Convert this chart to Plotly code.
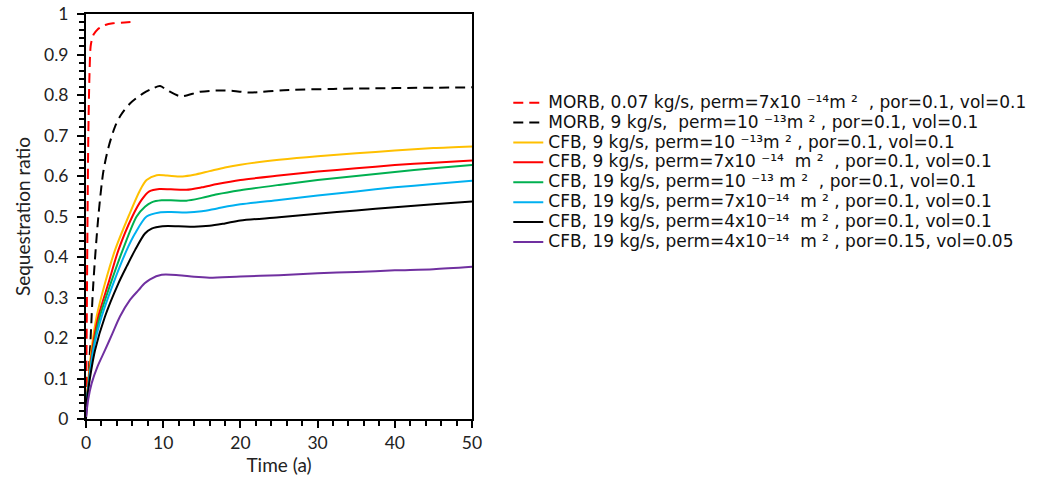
import plotly.graph_objects as go

# --- data ---
morb007_x = [0, 0.1, 0.2, 0.3, 0.45, 0.6, 0.8, 1.0, 1.5, 2.0, 2.5, 3.5, 5.0, 6.5]
morb007_y = [0, 0.25, 0.5, 0.7, 0.85, 0.92, 0.94, 0.95, 0.962, 0.968, 0.973, 0.977, 0.979, 0.981]

morb9_x = [0, 0.52, 0.95, 1.6, 2.24, 2.9, 3.76, 4.5, 5.7, 7.4, 8.5, 9.6, 10.5, 12.2, 14.8, 17, 19.1, 21.2, 25.6, 32, 40, 50]
morb9_y = [0, 0.17, 0.335, 0.5, 0.61, 0.67, 0.722, 0.75, 0.779, 0.804, 0.815, 0.822, 0.812, 0.797, 0.808, 0.811, 0.81, 0.806, 0.812, 0.815, 0.817, 0.819]

yellow_x = [0, 0.7, 1.38, 2.46, 3.76, 5.5, 7.0, 7.85, 9.15, 10.5, 12.5, 14, 16, 18, 20, 25, 30, 35, 40, 45, 50]
yellow_y = [0.03, 0.17, 0.253, 0.335, 0.417, 0.5, 0.565, 0.59, 0.602, 0.601, 0.599, 0.603, 0.612, 0.621, 0.628, 0.64, 0.649, 0.656, 0.663, 0.669, 0.673]

red_x = [0, 0.8, 1.6, 2.9, 4.2, 6.0, 7.2, 8.2, 9.5, 11, 13, 15, 17, 20, 25, 30, 35, 40, 45, 50]
red_y = [0.03, 0.17, 0.253, 0.335, 0.417, 0.5, 0.541, 0.562, 0.568, 0.567, 0.566, 0.572, 0.58, 0.59, 0.601, 0.611, 0.619, 0.627, 0.633, 0.638]

green_x = [0, 0.9, 1.8, 3.2, 4.75, 6.56, 7.64, 8.5, 9.8, 11, 13, 15, 17, 20, 25, 30, 35, 40, 45, 50]
green_y = [0.03, 0.17, 0.253, 0.335, 0.417, 0.5, 0.524, 0.535, 0.54, 0.54, 0.539, 0.546, 0.555, 0.565, 0.578, 0.59, 0.60, 0.61, 0.619, 0.627]

cyan_x = [0, 0.95, 2.03, 3.54, 5.27, 6.35, 7.85, 9.5, 11, 13, 15, 17, 20, 25, 30, 35, 40, 45, 50]
cyan_y = [0.03, 0.17, 0.253, 0.335, 0.417, 0.458, 0.5, 0.51, 0.511, 0.51, 0.513, 0.52, 0.53, 0.541, 0.552, 0.562, 0.572, 0.58, 0.588]

black_x = [0, 0.5, 1.17, 2.46, 4.2, 5.3, 6.35, 7.64, 8.5, 9.9, 12, 14, 16, 18, 20, 25, 30, 35, 40, 45, 50]
black_y = [0.03, 0.1, 0.17, 0.253, 0.335, 0.378, 0.417, 0.458, 0.47, 0.476, 0.476, 0.475, 0.477, 0.483, 0.49, 0.498, 0.507, 0.515, 0.523, 0.53, 0.537]

purple_x = [0, 0.3, 0.73, 1.5, 2.46, 3.4, 4.4, 5.7, 6.8, 7.6, 8.3, 9.8, 12, 14, 16, 20, 25, 30, 35, 40, 45, 50]
purple_y = [0.005, 0.05, 0.088, 0.13, 0.17, 0.21, 0.253, 0.294, 0.318, 0.335, 0.345, 0.356, 0.355, 0.351, 0.349, 0.352, 0.355, 0.36, 0.363, 0.367, 0.37, 0.376]

names = [
    "MORB, 0.07 kg/s, perm=7x10 \u207b\u00b9\u2074m \u00b2  , por=0.1, vol=0.1",
    "MORB, 9 kg/s,  perm=10 \u207b\u00b9\u00b3m \u00b2 , por=0.1, vol=0.1",
    "CFB, 9 kg/s, perm=10 \u207b\u00b9\u00b3m \u00b2 , por=0.1, vol=0.1",
    "CFB, 9 kg/s, perm=7x10 \u207b\u00b9\u2074  m \u00b2  , por=0.1, vol=0.1",
    "CFB, 19 kg/s, perm=10 \u207b\u00b9\u00b3 m \u00b2  , por=0.1, vol=0.1",
    "CFB, 19 kg/s, perm=7x10\u207b\u00b9\u2074  m \u00b2 , por=0.1, vol=0.1",
    "CFB, 19 kg/s, perm=4x10\u207b\u00b9\u2074  m \u00b2 , por=0.1, vol=0.1",
    "CFB, 19 kg/s, perm=4x10\u207b\u00b9\u2074  m \u00b2 , por=0.15, vol=0.05",
]
colors = ["#FF0000", "#000000", "#FFC000", "#FF0000", "#00B050", "#00B0F0", "#000000", "#7030A0"]
dashes = ["10px,6px", "10px,6px", "solid", "solid", "solid", "solid", "solid", "solid"]
series = [(morb007_x, morb007_y), (morb9_x, morb9_y), (yellow_x, yellow_y), (red_x, red_y),
          (green_x, green_y), (cyan_x, cyan_y), (black_x, black_y), (purple_x, purple_y)]

fig = go.Figure()
for nm, col, ds, (xs, ys) in zip(names, colors, dashes, series):
    fig.add_trace(go.Scatter(
        x=xs, y=ys, mode="lines",
        name='<span style="font-size:17px">' + nm + "</span>",
        line=dict(color=col, width=2, dash=ds, shape="spline", smoothing=0.8)))

tick_font = dict(family="Lato, Open Sans, sans-serif", size=17.5, color="#222")
title_font = dict(family="Lato, Open Sans, sans-serif", size=19, color="#222")
fig.update_layout(
    width=1040, height=481, autosize=False,
    margin=dict(l=86, r=568, t=14, b=62, autoexpand=False),
    paper_bgcolor="white", plot_bgcolor="white",
    showlegend=True,
    legend=dict(x=1.094, y=0.818, xanchor="left", yanchor="top",
                font=dict(family="DejaVu Sans, sans-serif", size=13, color="#111"),
                tracegroupgap=0, itemwidth=30, bgcolor="rgba(0,0,0,0)"),
    xaxis=dict(range=[0, 50], dtick=10, tick0=0, showgrid=False, zeroline=False, automargin=False,
               showline=True, linecolor="black", linewidth=2, mirror=True,
               ticks="outside", ticklen=7, tickwidth=1.5, tickcolor="black",
               minor=dict(dtick=2, ticks="outside", ticklen=5, tickcolor="black", tickwidth=1.5),
               tickfont=tick_font, ticklabeloverflow="allow",
               title=dict(text="Time (a)", font=title_font, standoff=4)),
    yaxis=dict(range=[0, 1], dtick=0.1, tick0=0, showgrid=False, zeroline=False, automargin=False,
               showline=True, linecolor="black", linewidth=2, mirror=True,
               ticks="outside", ticklen=7, tickwidth=1.5, tickcolor="black",
               minor=dict(dtick=0.02, ticks="outside", ticklen=5, tickcolor="black", tickwidth=1.5),
               tickfont=tick_font, tickformat="~g", ticklabelstandoff=5, ticklabeloverflow="allow",
               title=dict(text="Sequestration ratio", font=title_font, standoff=8)),
)
fig.write_html("out.html", config={"displayModeBar": False},
               post_script="document.body.style.margin='0';")
